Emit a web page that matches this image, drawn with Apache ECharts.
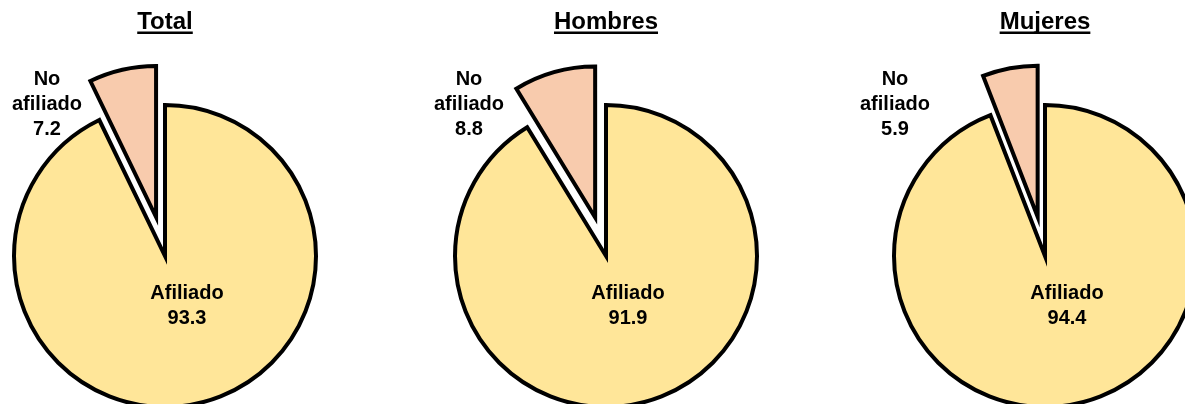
<!DOCTYPE html>
<html>
<head>
<meta charset="utf-8">
<script src="https://cdn.jsdelivr.net/npm/echarts@6/dist/echarts.min.js"></script>
<style>
  html, body { margin: 0; padding: 0; background: #fff; }
  #chart { width: 1185px; height: 404px; }
</style>
</head>
<body>
<div id="chart"></div>
<script>
// Afiliación por grupo (%)
const groups = ['Total', 'Hombres', 'Mujeres'];
const categories = ['Afiliado', 'No afiliado'];
const afiliado = [93.3, 91.9, 94.4];
const noAfiliado = [7.2, 8.8, 5.9];

// Layout of each pie: centre, and where its two labels sit relative to it
const centers = [[165, 256], [606, 256], [1045, 256]];
const radius = 151;
const labelOffsets = [
  [[22, 50], [-118, -152]],
  [[22, 50], [-137, -152]],
  [[22, 50], [-150, -152]]
];

const FONT = "'Liberation Sans', Arial, sans-serif";
const colors = ['#FFE699', '#F8CBAD'];

const chart = echarts.init(document.getElementById('chart'), null, { renderer: 'canvas' });

function measure(text, font) {
  const ctx = document.createElement('canvas').getContext('2d');
  ctx.font = font;
  return ctx.measureText(text).width;
}

const base = i => ({
  type: 'pie',
  center: centers[i],
  radius: radius,
  startAngle: 90,
  clockwise: true,
  avoidLabelOverlap: false,
  animation: false,
  emphasis: { disabled: true },
  labelLine: { show: false }
});

const series = [];
groups.forEach((g, i) => {
  // The pie itself, with the No afiliado slice pulled out
  series.push(Object.assign(base(i), {
    name: g,
    selectedMode: 'single',
    selectedOffset: 40,
    itemStyle: { borderColor: '#000', borderWidth: 4, borderJoin: 'miter' },
    label: { show: false },
    data: [
      { name: categories[0], value: afiliado[i], itemStyle: { color: colors[0] } },
      { name: categories[1], value: noAfiliado[i], selected: true, itemStyle: { color: colors[1] } }
    ]
  }));
  // Same values again, unfilled, carrying the category/value labels
  series.push(Object.assign(base(i), {
    name: g + ' etiquetas',
    silent: true,
    z: 3,
    itemStyle: { color: 'rgba(0,0,0,0)', borderWidth: 0 },
    label: {
      show: true, position: 'center',
      color: '#000', fontFamily: FONT, fontWeight: 'bold', fontSize: 20,
      lineHeight: 25, align: 'center',
      formatter: p => p.name.replace(' ', '\n') + '\n' + p.value
    },
    labelLayout: p => {
      const off = labelOffsets[i][p.dataIndex];
      return {
        x: centers[i][0] + off[0],
        y: centers[i][1] + off[1],
        align: 'center',
        verticalAlign: 'middle'
      };
    },
    data: [
      { name: categories[0], value: afiliado[i] },
      { name: categories[1], value: noAfiliado[i] }
    ]
  }));
});

// Underlined titles above each pie
const titleFont = 'bold 24px ' + FONT;
const graphic = [];
groups.forEach((g, i) => {
  const w = measure(g, titleFont);
  graphic.push({
    type: 'text',
    x: centers[i][0], y: 22,
    style: {
      text: g, fill: '#000', font: titleFont,
      align: 'center', verticalAlign: 'middle'
    },
    silent: true
  });
  graphic.push({
    type: 'rect',
    shape: { x: centers[i][0] - w / 2, y: 31.5, width: w, height: 2.5 },
    style: { fill: '#000' },
    silent: true
  });
});

chart.setOption({
  backgroundColor: '#fff',
  animation: false,
  graphic: graphic,
  series: series
});
</script>
</body>
</html>
